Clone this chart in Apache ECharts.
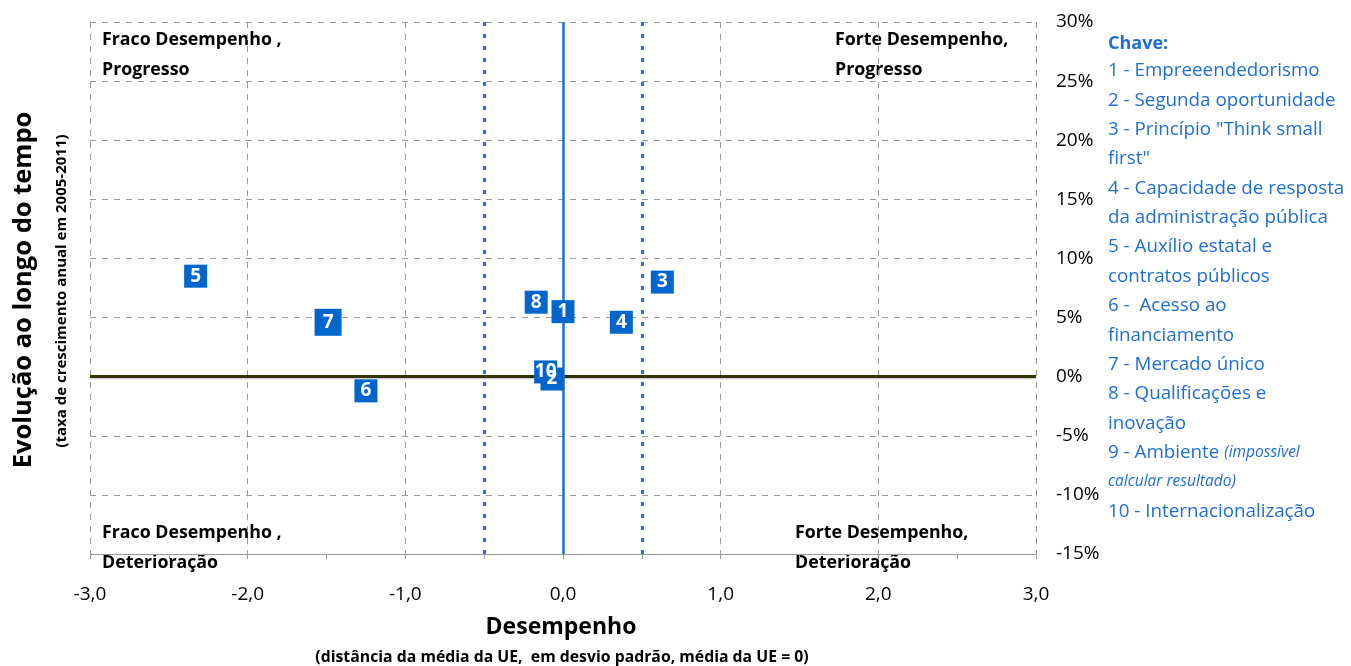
<!DOCTYPE html>
<html>
<head>
<meta charset="utf-8">
<script src="https://cdn.jsdelivr.net/npm/echarts@6/dist/echarts.min.js"></script>
<style>
html,body{margin:0;padding:0;background:#fff;}
#chart{width:1351px;height:666px;}
</style>
</head>
<body>
<div id="chart"></div>
<script>
// ---- data ----
const pointIds   = ['1', '2', '3', '4', '5', '6', '7', '8', '10'];
const performance = [0.00, -0.07, 0.63, 0.37, -2.33, -1.25, -1.49, -0.17, -0.11];
const growth      = [5.5, -0.2, 8.0, 4.6, 8.5, -1.2, 4.6, 6.3, 0.4];
const thresholds  = [-0.5, 0.5];
const keyTitle = 'Chave:';
const keyLines = [
  '1 - Empreeendedorismo',
  '2 - Segunda oportunidade',
  '3 - Princípio "Think small',
  'first"',
  '4 - Capacidade de resposta',
  'da administração pública',
  '5 - Auxílio estatal e',
  'contratos públicos',
  '6 -  Acesso ao',
  'financiamento',
  '7 - Mercado único',
  '8 - Qualificações e',
  'inovação',
  '9 - Ambiente {i|(impossível}',
  '{i|calcular resultado)}',
  '10 - Internacionalização'
];
const quadrantLabels = [
  ['Fraco Desempenho ,', 'Progresso'],
  ['Forte Desempenho,', 'Progresso'],
  ['Fraco Desempenho ,', 'Deterioração'],
  ['Forte Desempenho,', 'Deterioração']
];

const FONT = 'Open Sans';
const BLUE = '#0066cc';
const KEYBLUE = '#1f6fd1';

const chart = echarts.init(document.getElementById('chart'));

const scatterData = pointIds.map((id, i) => ({
  value: [performance[i], growth[i]],
  name: id,
  symbolSize: id === '7' ? 27 : 23
}));

const graphics = [];
// Key
graphics.push({
  type: 'text', x: 1108, y: 44,
  style: { text: keyTitle, font: 'bold 18px ' + FONT, fill: KEYBLUE, verticalAlign: 'middle' }
});
keyLines.forEach((t, i) => {
  graphics.push({
    type: 'text', x: 1108, y: 71 + i * 29.35,
    style: {
      text: t, fontFamily: FONT, fontSize: 18.8, fill: KEYBLUE, verticalAlign: 'middle',
      rich: { i: { fontFamily: FONT, fontSize: 15.5, fontStyle: 'italic', fill: KEYBLUE } }
    }
  });
});
// quadrant labels
const qpos = [[102, 40], [835, 40], [102, 533], [795, 533]];
quadrantLabels.forEach((q, i) => {
  q.forEach((line, j) => {
    graphics.push({
      type: 'text', x: qpos[i][0], y: qpos[i][1] + j * 30,
      style: { text: line, font: 'bold 17.8px ' + FONT, fill: '#000', verticalAlign: 'middle' }
    });
  });
});
// axis titles
graphics.push({
  type: 'text', x: 561, y: 627,
  style: { text: 'Desempenho', font: 'bold 23px ' + FONT, fill: '#000', align: 'center', verticalAlign: 'middle' }
});
graphics.push({
  type: 'text', x: 562, y: 657,
  style: { text: '(distância da média da UE,  em desvio padrão, média da UE = 0)', font: 'bold 15.8px ' + FONT, fill: '#000', align: 'center', verticalAlign: 'middle' }
});
graphics.push({
  type: 'text', x: 24, y: 290, rotation: Math.PI / 2,
  style: { text: 'Evolução ao longo do tempo', font: 'bold 25.5px ' + FONT, fill: '#000', align: 'center', verticalAlign: 'middle' }
});
graphics.push({
  type: 'text', x: 62, y: 291, rotation: Math.PI / 2,
  style: { text: '(taxa de crescimento anual em 2005-2011)', font: 'bold 15px ' + FONT, fill: '#000', align: 'center', verticalAlign: 'middle' }
});

chart.setOption({
  animation: false,
  grid: { left: 90, right: 315, top: 22, bottom: 112 },
  xAxis: {
    type: 'value', min: -3, max: 3, interval: 1,
    axisLine: { show: true, onZero: false, lineStyle: { color: '#999', width: 1 } },
    axisTick: { show: true, length: 5, lineStyle: { color: '#999' } },
    minorTick: { show: true, splitNumber: 2, length: 5, lineStyle: { color: '#999' } },
    splitLine: { show: true, lineStyle: { type: [6, 6], color: '#9a9a9a', width: 1 } },
    axisLabel: {
      margin: 31, fontFamily: FONT, fontSize: 19, color: '#000',
      formatter: v => v.toFixed(1).replace('.', ',')
    }
  },
  yAxis: {
    type: 'value', position: 'right', min: -15, max: 30, interval: 5,
    axisLine: { show: false },
    axisTick: { show: false },
    splitLine: { show: true, lineStyle: { type: [6, 6], color: '#9a9a9a', width: 1 } },
    axisLabel: {
      margin: 20, fontFamily: FONT, fontSize: 19, color: '#000',
      padding: [9, 0, 0, 0],
      formatter: v => v + '%'
    }
  },
  graphic: graphics,
  series: [
    {
      type: 'scatter',
      data: [],
      markLine: {
        silent: true, symbol: 'none', label: { show: false },
        data: [
          { xAxis: thresholds[0], lineStyle: { color: '#3366ff', type: [4, 8], width: 3 } },
          { xAxis: thresholds[1], lineStyle: { color: '#3366ff', type: [4, 8], width: 3 } },
          { yAxis: 0, lineStyle: { color: '#333300', type: 'solid', width: 3, shadowColor: 'rgba(0,0,0,0.25)', shadowBlur: 2, shadowOffsetY: 1 } },
          { xAxis: 0, lineStyle: { color: '#1a6fd6', type: 'solid', width: 2.5 } }
        ]
      }
    },
    {
      type: 'scatter',
      symbol: 'rect',
      data: scatterData,
      itemStyle: { color: BLUE, opacity: 1 },
      label: {
        show: true, position: 'inside', color: '#fff',
        fontFamily: FONT, fontWeight: 'bold', fontSize: 19,
        formatter: p => p.name
      },
      z: 5
    }
  ]
});
</script>
</body>
</html>
